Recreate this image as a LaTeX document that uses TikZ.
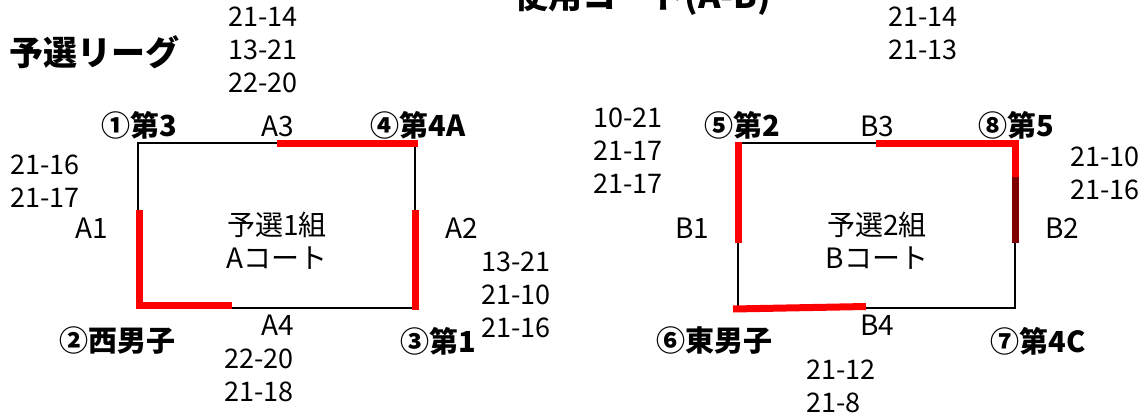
\documentclass[tikz,border=0pt]{standalone}
\usepackage{fontspec}
\setmainfont{Noto Sans CJK JP}
\begin{document}
\begin{tikzpicture}[x=1pt,y=-1pt,
  lbl/.style={inner sep=0pt, font=\fontsize{28}{33}\selectfont},
  team/.style={inner sep=0pt, font=\fontsize{29}{33}\selectfont\bfseries},
  score/.style={inner sep=0pt, anchor=west, align=left, font=\fontsize{27}{33}\selectfont},
  courtline/.style={line width=2.5pt, black},
  hit/.style={line width=7pt, red, miter limit=10},
  darkhit/.style={line width=7pt, red!50!black},
]
\useasboundingbox (0,0) rectangle (1147,417);
\fill[white] (0,0) rectangle (1147,417);

% titles
\node[inner sep=0pt, font=\fontsize{34}{36}\selectfont\bfseries] (title) at (643,-3) {使用コート(A-B)};
\node[inner sep=0pt, anchor=west, font=\fontsize{34}{36}\selectfont\bfseries] (league) at (9,52) {予選リーグ};

% court A corners
\coordinate (a1) at (138,143);
\coordinate (a2) at (415,143);
\coordinate (a3) at (415,308);
\coordinate (a4) at (138,308);
\draw[courtline] (a1) -- (a2) -- (a3) -- (a4) -- cycle;
\coordinate (aTopR) at (277,143);
\coordinate (aLeftT) at (139,210);
\coordinate (aLeftB) at (139,305.5);
\coordinate (aBotR) at (232,305.5);
\coordinate (aRightT) at (415,210);
\coordinate (aRightB) at (415,309.5);
\coordinate (aTopE) at (418,143);
\draw[hit] (aTopR) -- (aTopE);
\draw[hit] (aLeftT) -- (aLeftB) -- (aBotR);
\draw[hit] (aRightT) -- (aRightB);

% court B corners
\coordinate (b1) at (738,143);
\coordinate (b2) at (1015,143);
\coordinate (b3) at (1015,308);
\coordinate (b4) at (738,308);
\draw[courtline] (b1) -- (b2) -- (b3) -- (b4) -- cycle;
\coordinate (bLeftT) at (738,142);
\coordinate (bLeftB) at (738,243);
\coordinate (bTopL) at (876,143);
\coordinate (bRightM) at (1015,177);
\coordinate (bRightB) at (1015,243);
\coordinate (bBotL) at (733,309);
\coordinate (bBotR) at (866,306.5);
\draw[hit] (bLeftT) -- (bLeftB);
\draw[darkhit] (bRightM) -- (bRightB);
\draw[hit] (bTopL) -- (b2) -- (bRightM);
\draw[hit] (bBotL) -- (bBotR);

% court labels
\node[lbl, align=center] (ca) at (277,241) {予選1組\\Aコート};
\node[lbl, align=center] (cb) at (877,241) {予選2組\\Bコート};
\node[lbl] (A1) at (92,228) {A1};
\node[lbl] (A2) at (462,228) {A2};
\node[lbl] (A3) at (278,126) {A3};
\node[lbl] (A4) at (278,325) {A4};
\node[lbl] (B1) at (692,228) {B1};
\node[lbl] (B2) at (1062,228) {B2};
\node[lbl] (B3) at (877,126) {B3};
\node[lbl] (B4) at (877,325) {B4};

% teams
\node[team] (t1) at (139,125) {①第3};
\node[team] (t4) at (418,125) {④第4A};
\node[team] (t2) at (117,341) {②西男子};
\node[team] (t3) at (438,341) {③第1};
\node[team] (t5) at (742,125) {⑤第2};
\node[team] (t8) at (1016,125) {⑧第5};
\node[team] (t6) at (714,341) {⑥東男子};
\node[team] (t7) at (1038,341) {⑦第4C};

% scores
\node[score] (s1) at (228,50) {21-14\\13-21\\22-20};
\node[score] (s2) at (10,181) {21-16\\21-17};
\node[score] (s3) at (481,295) {13-21\\21-10\\21-16};
\node[score] (s4) at (224,375) {22-20\\21-18};
\node[score] (s5) at (593,151) {10-21\\21-17\\21-17};
\node[score] (s6) at (1070,173.5) {21-10\\21-16};
\node[score] (s7) at (806,386.5) {21-12\\21-8};
\node[score] (s8) at (888,33) {21-14\\21-13};
\end{tikzpicture}
\end{document}
